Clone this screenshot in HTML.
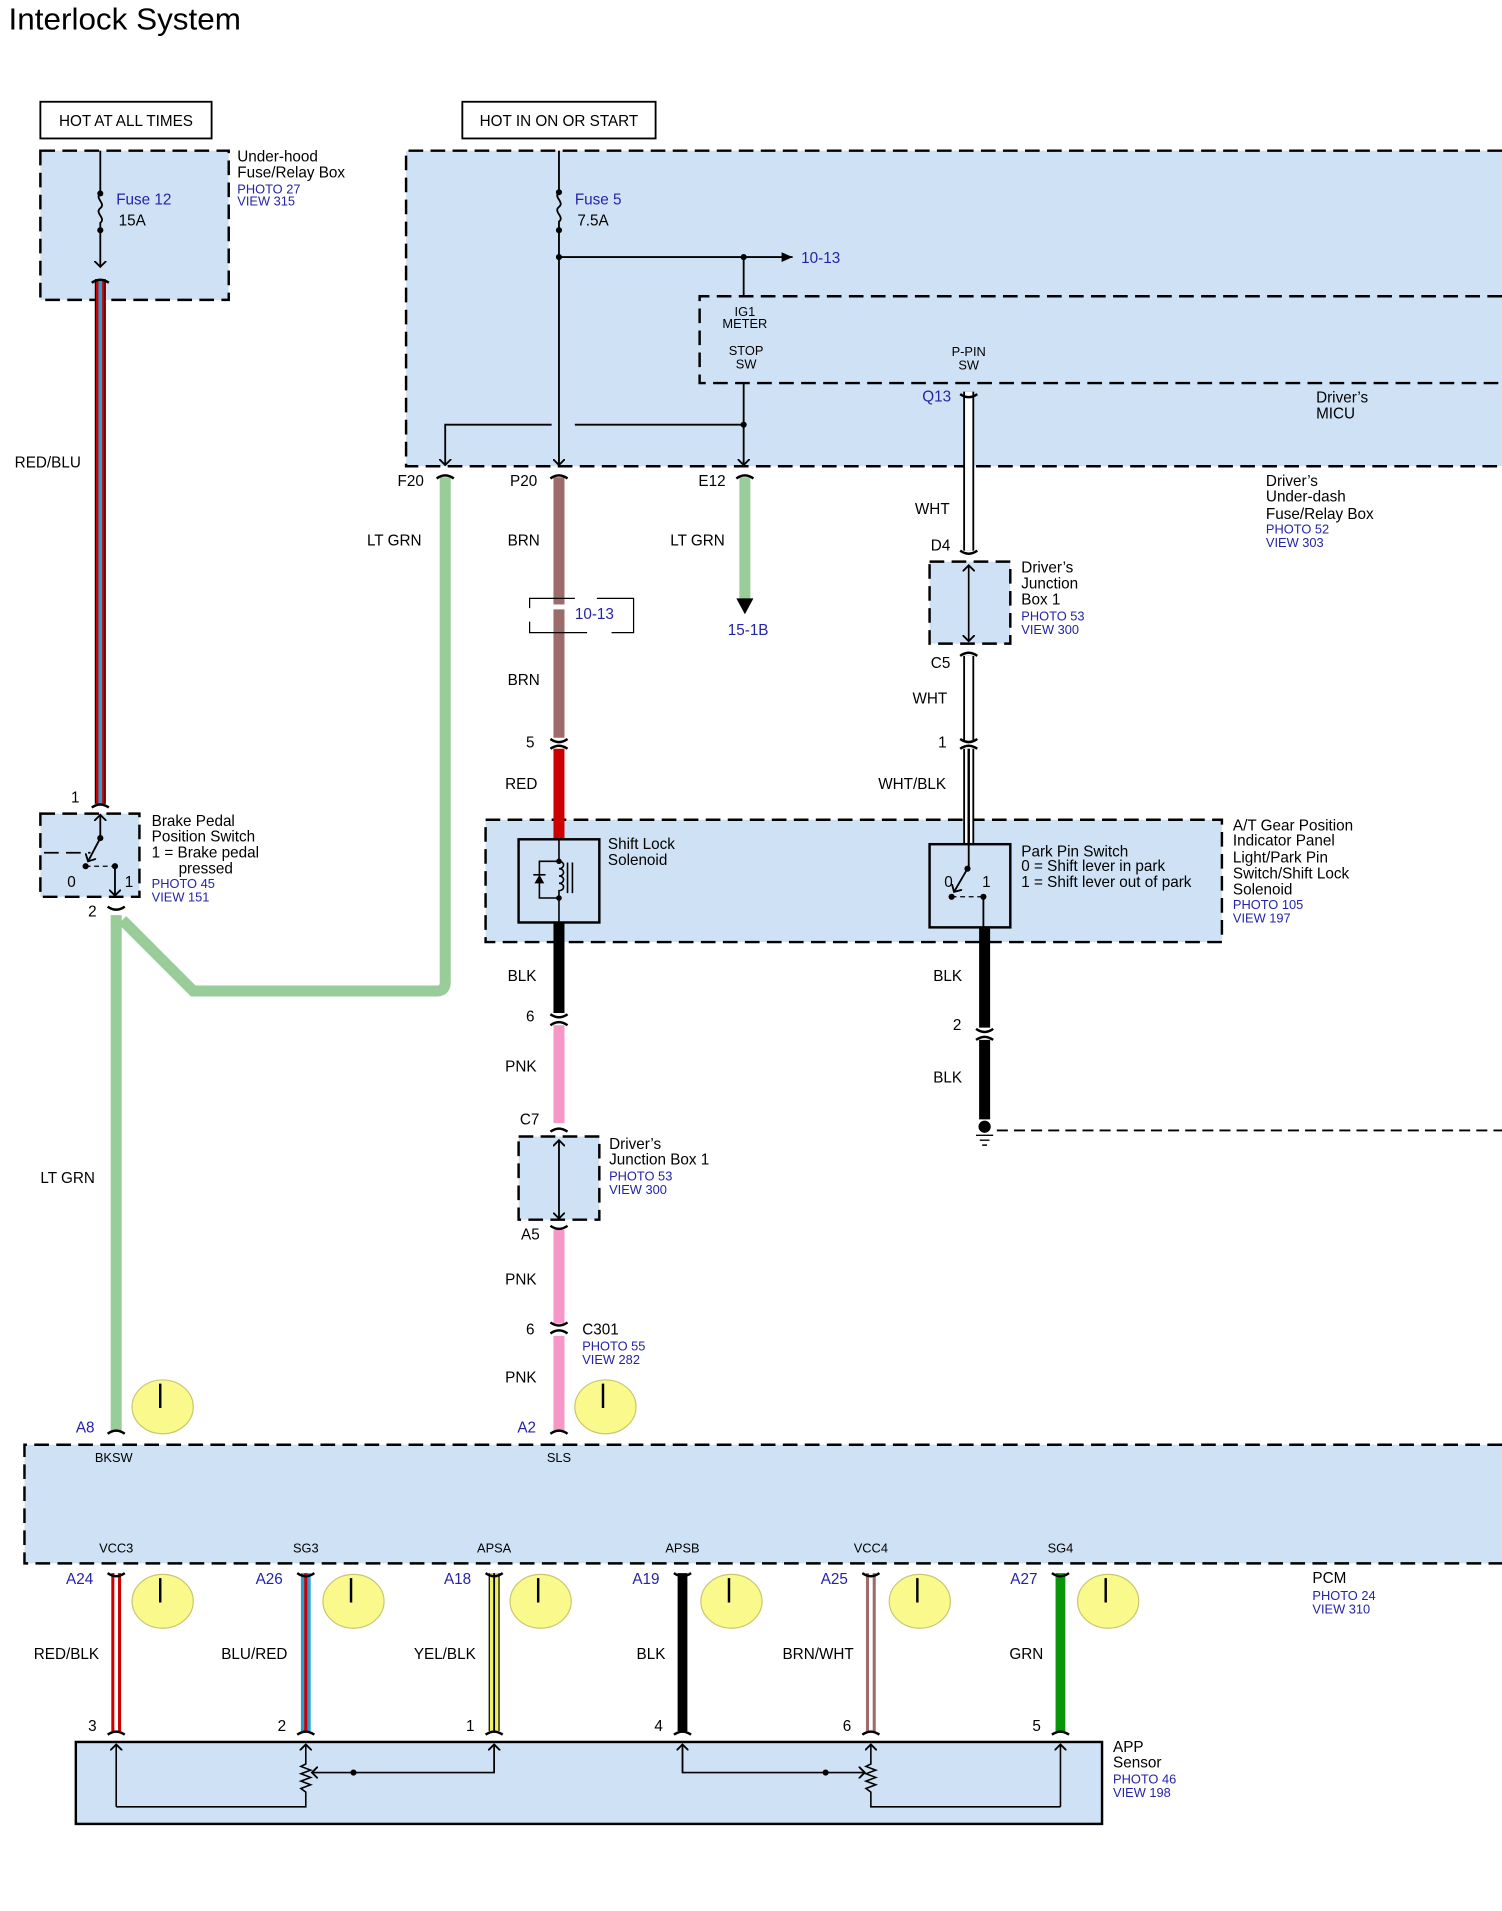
<!DOCTYPE html>
<html><head><meta charset="utf-8"><style>
html,body{margin:0;padding:0;background:#fff}
svg{display:block}
text{font-family:"Liberation Sans",Arial,sans-serif;fill:#000}
.b{fill:#2323a8}
.s{font-size:10.5px}
.m{font-size:12.5px}
.c{text-anchor:middle}
.r{text-anchor:end}
</style></head><body>
<svg width="1502" height="1911" viewBox="0 0 1228 1562" xmlns="http://www.w3.org/2000/svg">
<defs>
<marker id="ar" markerWidth="10" markerHeight="10" refX="5" refY="5" orient="auto" markerUnits="userSpaceOnUse">
<path d="M0,0 L5,5 L0,10" fill="none" stroke="#000" stroke-width="1.5"/></marker>
<marker id="at" markerWidth="10" markerHeight="10" refX="9" refY="5" orient="auto" markerUnits="userSpaceOnUse">
<path d="M0,1 L9,5 L0,9 z" fill="#000"/></marker>
</defs>
<text x="7" y="24" font-size="25" textLength="190" lengthAdjust="spacingAndGlyphs">Interlock System</text>

<!-- top boxes -->
<rect x="33" y="83" width="140" height="30" fill="#fff" stroke="#000" stroke-width="1.5"/>
<text x="103" y="103" class="m c">HOT AT ALL TIMES</text>
<rect x="378" y="83" width="158" height="30" fill="#fff" stroke="#000" stroke-width="1.5"/>
<text x="457" y="103" class="m c">HOT IN ON OR START</text>

<g fill="#cfe2f5" stroke="#000" stroke-width="2" stroke-dasharray="12,6">
<rect x="33" y="123" width="154" height="122"/>
<path d="M1228,123 H332 V381 H1228"/>
<path d="M1228,242 H572 V313 H1228"/>
<rect x="33" y="665" width="81" height="68"/>
<rect x="397" y="670" width="602" height="100"/>
<rect x="760" y="459" width="66" height="67"/>
<rect x="424" y="929" width="66" height="68"/>
<path d="M1228,1181 H20 V1278 H1228"/>
</g>
<rect x="62" y="1424" width="839" height="67" fill="#cfe2f5" stroke="#000" stroke-width="2"/>

<!-- under-hood box -->
<text x="194" y="132" class="m">Under-hood</text>
<text x="194" y="145" class="m">Fuse/Relay Box</text>
<text x="194" y="158" class="s b">PHOTO 27</text>
<text x="194" y="168" class="s b">VIEW 315</text>
<g stroke="#000" stroke-width="1.5" fill="none">
<path d="M82,123 V158 M82,188 V218" marker-end="url(#ar)"/>
<path d="M82,158 c-5,4 5,8 0,12 c-5,4 5,8 0,12 V188"/>
<path d="M457,123 V157 M457,188 V380" marker-end="url(#ar)"/>
<path d="M457,157 c-5,4 5,8 0,12 c-5,4 5,8 0,12 V188"/>
<path d="M457,210 H648" marker-end="url(#at)"/>
<path d="M608,210 V242 M608,313 V380" marker-end="url(#ar)"/>
<path d="M608,347 H470 M451,347 H364 V380" marker-end="url(#ar)"/>
</g>
<g fill="#000"><circle cx="82" cy="158" r="2.5"/><circle cx="82" cy="188" r="2.5"/><circle cx="457" cy="157" r="2.5"/><circle cx="457" cy="188" r="2.5"/><circle cx="457" cy="210" r="2.5"/><circle cx="608" cy="210" r="2.5"/><circle cx="608" cy="347" r="2.5"/></g>
<text x="95" y="167" class="m b">Fuse 12</text>
<text x="97" y="184" class="m">15A</text>
<text x="470" y="167" class="m b">Fuse 5</text>
<text x="472" y="184" class="m">7.5A</text>
<text x="655" y="215" class="m b">10-13</text>
<text x="609" y="258" class="s c">IG1</text>
<text x="609" y="268" class="s c">METER</text>
<text x="610" y="290" class="s c">STOP</text>
<text x="610" y="301" class="s c">SW</text>
<text x="792" y="291" class="s c">P-PIN</text>
<text x="792" y="302" class="s c">SW</text>
<text x="754" y="328" class="m b">Q13</text>
<text x="1076" y="329" class="m">Driver’s</text>
<text x="1076" y="342" class="m">MICU</text>
<text x="1035" y="397" class="m">Driver’s</text>
<text x="1035" y="410" class="m">Under-dash</text>
<text x="1035" y="424" class="m">Fuse/Relay Box</text>
<text x="1035" y="436" class="s b">PHOTO 52</text>
<text x="1035" y="447" class="s b">VIEW 303</text>

<!-- wires -->
<g fill="none" stroke-linecap="butt">
<path d="M82,228 V657" stroke="#000" stroke-width="9"/>
<path d="M82,228 V657" stroke="#cc0000" stroke-width="7"/>
<path d="M82,228 V657" stroke="#2a9fd6" stroke-width="3"/>
<path d="M364,390 V803 Q364,810 357,810 H158 L100,752" stroke="#98cc98" stroke-width="9"/>
<path d="M95,748 V1170" stroke="#98cc98" stroke-width="9"/>
<path d="M609,390 V490" stroke="#98cc98" stroke-width="9"/>
<path d="M457,390 V603" stroke="#9e6b6b" stroke-width="9"/>
<path d="M457,612 V686" stroke="#cc0000" stroke-width="9"/>
<path d="M457,754 V828" stroke="#000" stroke-width="9"/>
<path d="M457,838 V918 M457,1005 V1082 M457,1092 V1170" stroke="#f797c8" stroke-width="9"/>
<path d="M792,320 V450 M792,536 V605" stroke="#000" stroke-width="9"/>
<path d="M792,320 V450 M792,536 V605" stroke="#fff" stroke-width="6"/>
<path d="M792,612 V690" stroke="#000" stroke-width="9"/>
<path d="M792,612 V690" stroke="#fff" stroke-width="6"/>
<path d="M792,612 V690" stroke="#000" stroke-width="2"/>
<path d="M805,758 V840 M805,850 V915" stroke="#000" stroke-width="9"/>
</g>
<rect x="450" y="494" width="14" height="4" fill="#fff"/>
<path d="M433,497 V489 H470 M488,489 H518 V517 H500 M480,517 H433 V508" fill="none" stroke="#000" stroke-width="1"/>
<text x="470" y="506" class="m b">10-13</text>
<path d="M602,489 H616 L609,502 z" fill="#000"/>
<text x="595" y="519" class="m b">15-1B</text>

<!-- connectors -->
<g fill="none" stroke="#000" stroke-width="2">
<path d="M75,231 q7,-5 14,0"/>
<path d="M357,391 q7,-5 14,0 M450,391 q7,-5 14,0 M602,391 q7,-5 14,0"/>
<path d="M450,604 q7,5 14,0 M450,612 q7,-5 14,0"/>
<path d="M450,829 q7,5 14,0 M450,838 q7,-5 14,0"/>
<path d="M450,925 q7,-5 14,0 M450,1002 q7,5 14,0"/>
<path d="M450,1081 q7,5 14,0 M450,1090 q7,-5 14,0"/>
<path d="M75,660 q7,-5 14,0 M88,741 q7,5 14,0"/>
<path d="M88,1172 q7,-5 14,0 M450,1172 q7,-5 14,0"/>
<path d="M785,322 q7,5 14,0 M785,450 q7,5 14,0 M785,536 q7,-5 14,0 M785,604 q7,5 14,0 M785,612 q7,-5 14,0"/>
<path d="M798,841 q7,5 14,0 M798,850 q7,-5 14,0"/>
</g>
<text x="325" y="397" class="m">F20</text>
<text x="417" y="397" class="m">P20</text>
<text x="571" y="397" class="m">E12</text>
<text x="300" y="446" class="m">LT GRN</text>
<text x="415" y="446" class="m">BRN</text>
<text x="548" y="446" class="m">LT GRN</text>
<text x="415" y="560" class="m">BRN</text>
<text x="430" y="611" class="m">5</text>
<text x="413" y="645" class="m">RED</text>
<text x="12" y="382" class="m">RED/BLU</text>
<text x="58" y="656" class="m">1</text>
<text x="72" y="749" class="m">2</text>
<text x="33" y="967" class="m">LT GRN</text>
<text x="748" y="420" class="m">WHT</text>
<text x="761" y="450" class="m">D4</text>
<text x="761" y="546" class="m">C5</text>
<text x="746" y="575" class="m">WHT</text>
<text x="767" y="611" class="m">1</text>
<text x="718" y="645" class="m">WHT/BLK</text>
<text x="763" y="802" class="m">BLK</text>
<text x="779" y="842" class="m">2</text>
<text x="763" y="885" class="m">BLK</text>
<text x="415" y="802" class="m">BLK</text>
<text x="430" y="835" class="m">6</text>
<text x="413" y="876" class="m">PNK</text>
<text x="425" y="919" class="m">C7</text>
<text x="426" y="1013" class="m">A5</text>
<text x="413" y="1050" class="m">PNK</text>
<text x="430" y="1091" class="m">6</text>
<text x="476" y="1091" class="m">C301</text>
<text x="476" y="1104" class="s b">PHOTO 55</text>
<text x="476" y="1115" class="s b">VIEW 282</text>
<text x="413" y="1130" class="m">PNK</text>

<!-- brake switch -->
<g fill="none" stroke="#000" stroke-width="1.5">
<path d="M82,685 V666" marker-end="url(#ar)"/>
<path d="M82,685 L72,704" marker-end="url(#ar)"/>
<path d="M70,708 H94" stroke-dasharray="4,3" stroke-width="1"/>
<path d="M36,697 H74" stroke-dasharray="12,6"/>
<path d="M94,708 V732" marker-end="url(#ar)"/>
</g>
<circle cx="82" cy="685" r="2.5"/><circle cx="70" cy="708" r="2.5"/><circle cx="94" cy="708" r="2.5"/>
<text x="55" y="725" class="m">0</text><text x="102" y="725" class="m">1</text>
<text x="124" y="675" class="m">Brake Pedal</text>
<text x="124" y="688" class="m">Position Switch</text>
<text x="124" y="701" class="m">1 = Brake pedal</text>
<text x="146" y="714" class="m">pressed</text>
<text x="124" y="726" class="s b">PHOTO 45</text>
<text x="124" y="737" class="s b">VIEW 151</text>

<!-- shift lock solenoid -->
<rect x="424" y="686" width="66" height="68" fill="none" stroke="#000" stroke-width="2"/>
<g fill="none" stroke="#000" stroke-width="1.3">
<path d="M457,686 V704 c5,0 5,6 0,6 c5,0 5,6 0,6 c5,0 5,6 0,6 c5,0 5,6 0,6 V754"/>
<path d="M457,704 H441 V734 H457"/>
<path d="M464,705 V730 M468,705 V730"/>
</g>
<path d="M437,722 H445 L441,715 z" fill="#000"/><path d="M436,715 H446" stroke="#000" stroke-width="1.3"/>
<circle cx="457" cy="704" r="2.3"/><circle cx="457" cy="734" r="2.3"/>
<text x="497" y="694" class="m">Shift Lock</text>
<text x="497" y="707" class="m">Solenoid</text>

<!-- park pin switch -->
<rect x="760" y="690" width="66" height="68" fill="none" stroke="#000" stroke-width="2"/>
<g fill="none" stroke="#000" stroke-width="1.5">
<path d="M792,690 V710"/>
<path d="M791,710 L780,729" marker-end="url(#ar)"/>
<path d="M778,733 H803" stroke-dasharray="4,3" stroke-width="1"/>
<path d="M804,733 V758"/>
</g>
<circle cx="791" cy="710" r="2.5"/><circle cx="778" cy="733" r="2.5"/><circle cx="804" cy="733" r="2.5"/>
<text x="772" y="725" class="m">0</text><text x="803" y="725" class="m">1</text>
<text x="835" y="700" class="m">Park Pin Switch</text>
<text x="835" y="712" class="m">0 = Shift lever in park</text>
<text x="835" y="725" class="m">1 = Shift lever out of park</text>
<text x="1008" y="679" class="m">A/T Gear Position</text>
<text x="1008" y="691" class="m">Indicator Panel</text>
<text x="1008" y="705" class="m">Light/Park Pin</text>
<text x="1008" y="718" class="m">Switch/Shift Lock</text>
<text x="1008" y="731" class="m">Solenoid</text>
<text x="1008" y="743" class="s b">PHOTO 105</text>
<text x="1008" y="754" class="s b">VIEW 197</text>

<!-- junction boxes -->
<path d="M792,462 V524" stroke="#000" stroke-width="1.3" marker-end="url(#ar)"/>
<path d="M792,524 V462" stroke="#000" stroke-width="1.3" marker-end="url(#ar)"/>
<text x="835" y="468" class="m">Driver’s</text>
<text x="835" y="481" class="m">Junction</text>
<text x="835" y="494" class="m">Box 1</text>
<text x="835" y="507" class="s b">PHOTO 53</text>
<text x="835" y="518" class="s b">VIEW 300</text>
<path d="M457,932 V996" stroke="#000" stroke-width="1.3" marker-end="url(#ar)"/>
<path d="M457,996 V932" stroke="#000" stroke-width="1.3" marker-end="url(#ar)"/>
<text x="498" y="939" class="m">Driver’s</text>
<text x="498" y="952" class="m">Junction Box 1</text>
<text x="498" y="965" class="s b">PHOTO 53</text>
<text x="498" y="976" class="s b">VIEW 300</text>

<!-- ground -->
<circle cx="805" cy="921" r="5" fill="#000"/>
<path d="M798,928 H812 M801,932 H809 M803,936 H807" stroke="#000" stroke-width="1.2"/>
<path d="M815,924 H1228" stroke="#000" stroke-width="1.5" stroke-dasharray="9,5"/>

<!-- clocks -->
<g fill="#fafa8c" stroke="#c8c870" stroke-width="1">
<ellipse cx="133" cy="1150" rx="25" ry="22"/><ellipse cx="495" cy="1150" rx="25" ry="22"/>
<ellipse cx="133" cy="1309" rx="25" ry="22"/><ellipse cx="289" cy="1309" rx="25" ry="22"/>
<ellipse cx="442" cy="1309" rx="25" ry="22"/><ellipse cx="598" cy="1309" rx="25" ry="22"/>
<ellipse cx="752" cy="1309" rx="25" ry="22"/><ellipse cx="906" cy="1309" rx="25" ry="22"/>
</g>
<g stroke="#000" stroke-width="2">
<path d="M131,1131 V1151 M493,1131 V1151 M131,1290 V1310 M287,1290 V1310 M440,1290 V1310 M596,1290 V1310 M750,1290 V1310 M904,1290 V1310"/>
</g>

<!-- PCM -->
<text x="62" y="1171" class="m b">A8</text>
<text x="423" y="1171" class="m b">A2</text>
<text x="93" y="1195" class="s c">BKSW</text>
<text x="457" y="1195" class="s c">SLS</text>
<text x="95" y="1269" class="s c">VCC3</text>
<text x="250" y="1269" class="s c">SG3</text>
<text x="404" y="1269" class="s c">APSA</text>
<text x="558" y="1269" class="s c">APSB</text>
<text x="712" y="1269" class="s c">VCC4</text>
<text x="867" y="1269" class="s c">SG4</text>
<text x="1073" y="1294" class="m">PCM</text>
<text x="1073" y="1308" class="s b">PHOTO 24</text>
<text x="1073" y="1319" class="s b">VIEW 310</text>

<g fill="none">
<path d="M95,1286 V1415" stroke="#cc0000" stroke-width="8"/><path d="M95,1286 V1415" stroke="#fff" stroke-width="3"/>
<path d="M250,1286 V1415" stroke="#2a9fd6" stroke-width="8"/><path d="M250,1286 V1415" stroke="#cc0000" stroke-width="2.5"/>
<path d="M404,1286 V1415" stroke="#000" stroke-width="9"/><path d="M404,1286 V1415" stroke="#f0f060" stroke-width="7"/><path d="M404,1286 V1415" stroke="#000" stroke-width="1.5"/>
<path d="M558,1286 V1415" stroke="#000" stroke-width="8"/>
<path d="M712,1286 V1415" stroke="#9e6b6b" stroke-width="8"/><path d="M712,1286 V1415" stroke="#fff" stroke-width="3"/>
<path d="M867,1286 V1415" stroke="#0a960a" stroke-width="8"/>
</g>
<g fill="none" stroke="#000" stroke-width="2">
<path d="M88,1286 q7,5 14,0 M243,1286 q7,5 14,0 M397,1286 q7,5 14,0 M551,1286 q7,5 14,0 M705,1286 q7,5 14,0 M860,1286 q7,5 14,0"/>
<path d="M88,1418 q7,-5 14,0 M243,1418 q7,-5 14,0 M397,1418 q7,-5 14,0 M551,1418 q7,-5 14,0 M705,1418 q7,-5 14,0 M860,1418 q7,-5 14,0"/>
</g>
<text x="54" y="1295" class="m b">A24</text>
<text x="209" y="1295" class="m b">A26</text>
<text x="363" y="1295" class="m b">A18</text>
<text x="517" y="1295" class="m b">A19</text>
<text x="671" y="1295" class="m b">A25</text>
<text x="826" y="1295" class="m b">A27</text>
<text x="81" y="1356" class="m r">RED/BLK</text>
<text x="235" y="1356" class="m r">BLU/RED</text>
<text x="389" y="1356" class="m r">YEL/BLK</text>
<text x="544" y="1356" class="m r">BLK</text>
<text x="698" y="1356" class="m r">BRN/WHT</text>
<text x="853" y="1356" class="m r">GRN</text>
<text x="72" y="1415" class="m">3</text>
<text x="227" y="1415" class="m">2</text>
<text x="381" y="1415" class="m">1</text>
<text x="535" y="1415" class="m">4</text>
<text x="689" y="1415" class="m">6</text>
<text x="844" y="1415" class="m">5</text>

<!-- APP sensor internals -->
<g fill="none" stroke="#000" stroke-width="1.3">
<path d="M95,1477 V1426" marker-end="url(#ar)"/>
<path d="M95,1477 H250 V1465 l-4,-3 l8,-3 l-8,-3 l8,-3 l-8,-3 l8,-3 l-8,-3 l4,-2 V1426" marker-end="url(#ar)"/>
<path d="M404,1426 V1449 H255" marker-end="url(#ar)"/>
<path d="M404,1449 V1426" marker-end="url(#ar)"/>
<path d="M867,1477 V1426" marker-end="url(#ar)"/>
<path d="M867,1477 H712 V1465 l-4,-3 l8,-3 l-8,-3 l8,-3 l-8,-3 l8,-3 l-8,-3 l4,-2 V1426" marker-end="url(#ar)"/>
<path d="M558,1426 V1449 H707" marker-end="url(#ar)"/>
<path d="M558,1449 V1426" marker-end="url(#ar)"/>
</g>
<circle cx="289" cy="1449" r="2.5"/><circle cx="675" cy="1449" r="2.5"/>
<text x="910" y="1432" class="m">APP</text>
<text x="910" y="1445" class="m">Sensor</text>
<text x="910" y="1458" class="s b">PHOTO 46</text>
<text x="910" y="1469" class="s b">VIEW 198</text>
</svg>
</body></html>
